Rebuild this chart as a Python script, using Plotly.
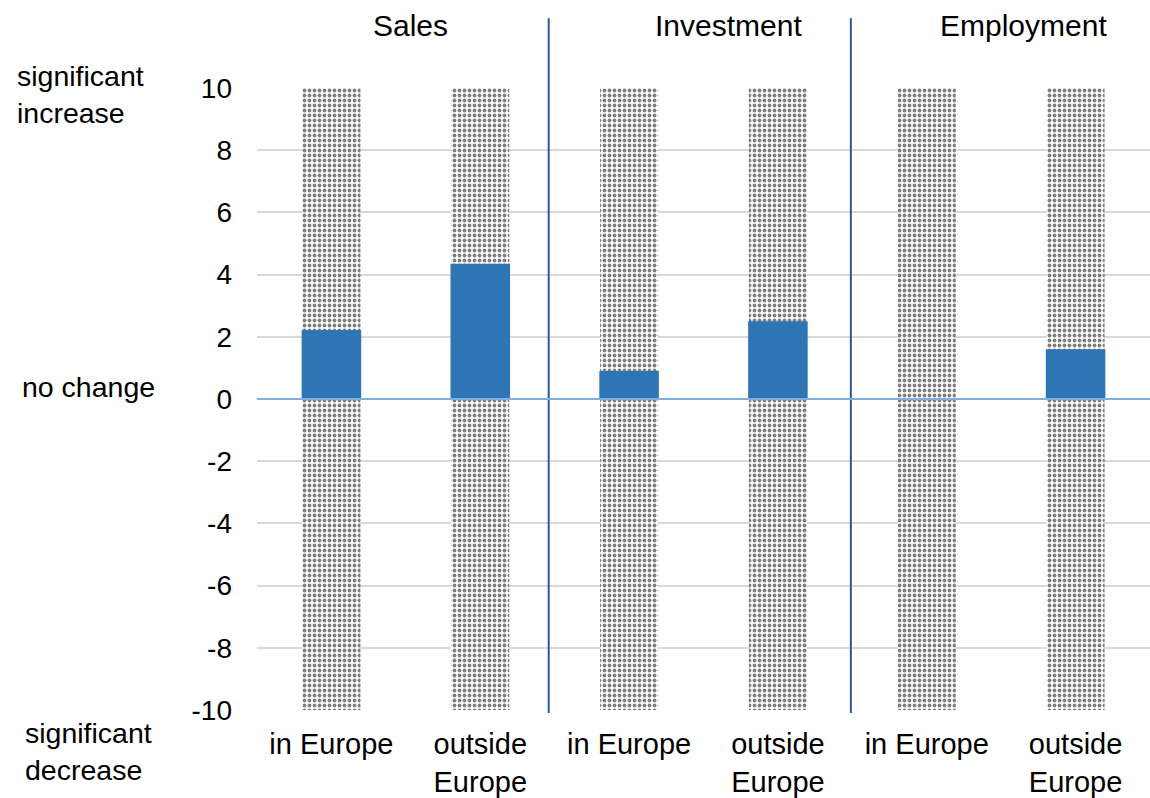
import plotly.graph_objects as go

# Survey categories and average responses (scale -10 .. +10)
groups = ["Sales", "Investment", "Employment"]
regions = ["in Europe", "outside<br>Europe"]
tick_labels = ["in Europe", "outside<br>Europe", "in Europe", "outside<br>Europe", "in Europe", "outside<br>Europe"]
responses = [2.22, 4.35, 0.9, 2.5, 0.0, 1.6]
scale_min = -10
scale_max = 10
y_ticks = [-10, -8, -6, -4, -2, 0, 2, 4, 6, 8, 10]

W, H = 1150, 798
L, R, T, B = 257, 0, 88, 86
PW = W - L - R
PH = H - T - B

xpos = list(range(len(tick_labels)))
FONT = "Arial, Liberation Sans, sans-serif"

fig = go.Figure()

# dotted full-range background bars
fig.add_trace(go.Bar(
    x=xpos,
    y=[scale_max - scale_min] * len(xpos),
    base=[scale_min] * len(xpos),
    width=0.39,
    marker=dict(
        color="white",
        line=dict(width=0),
        pattern=dict(shape=".", fgcolor="black", bgcolor="white", size=5, solidity=0.45),
    ),
    hoverinfo="skip",
    showlegend=False,
))

# response bars
fig.add_trace(go.Bar(
    x=xpos,
    y=responses,
    width=0.4,
    marker=dict(color="#2E75B6", line=dict(width=0)),
    showlegend=False,
))


def px_x(p):
    return (p - L) / PW


def px_y(p):
    return (H - B - p) / PH


annotations = []
# group headers
for name, cx in zip(groups, [410, 728, 1023]):
    annotations.append(dict(text=name, x=px_x(cx), y=px_y(25), xref="paper", yref="paper",
                            xanchor="center", yanchor="middle", showarrow=False,
                            font=dict(size=30, family=FONT, color="black")))

# scale descriptions
for text, lx, cy in [("significant<br>increase", 15, 95), ("no change", 20, 388), ("significant<br>decrease", 23, 754)]:
    annotations.append(dict(text=text, x=px_x(lx), y=px_y(cy), xref="paper", yref="paper",
                            xanchor="left", yanchor="middle", align="left", showarrow=False,
                            font=dict(size=28.5, family=FONT, color="black")))

shapes = []
# group separators
for sx in [1.46, 3.49]:
    shapes.append(dict(type="line", xref="x", yref="paper", x0=sx, x1=sx,
                       y0=px_y(715), y1=px_y(18), line=dict(color="#2F5597", width=2), layer="above"))
# zero line
shapes.append(dict(type="line", xref="paper", yref="y", x0=0, x1=1, y0=0, y1=0,
                   line=dict(color="#7FB1DE", width=2), layer="above"))

fig.update_layout(
    width=W, height=H,
    margin=dict(l=L, r=R, t=T, b=B, pad=0),
    paper_bgcolor="white", plot_bgcolor="white",
    barmode="overlay",
    font=dict(family=FONT, color="black"),
    annotations=annotations,
    shapes=shapes,
    xaxis=dict(
        range=[-0.5, len(xpos) - 0.5],
        tickvals=xpos, ticktext=tick_labels,
        tickfont=dict(size=29, family=FONT, color="black"),
        showgrid=False, zeroline=False, showline=False, ticks="",
        ticklabelstandoff=14,
    ),
    yaxis=dict(
        range=[scale_min, scale_max],
        tickvals=y_ticks, ticktext=[str(v) for v in y_ticks],
        tickfont=dict(size=28, family=FONT, color="black"),
        showgrid=True, gridcolor="#D9D9D9", gridwidth=2,
        zeroline=False, showline=False, ticks="",
        ticklabelstandoff=24,
    ),
)

fig.write_html("out.html")
